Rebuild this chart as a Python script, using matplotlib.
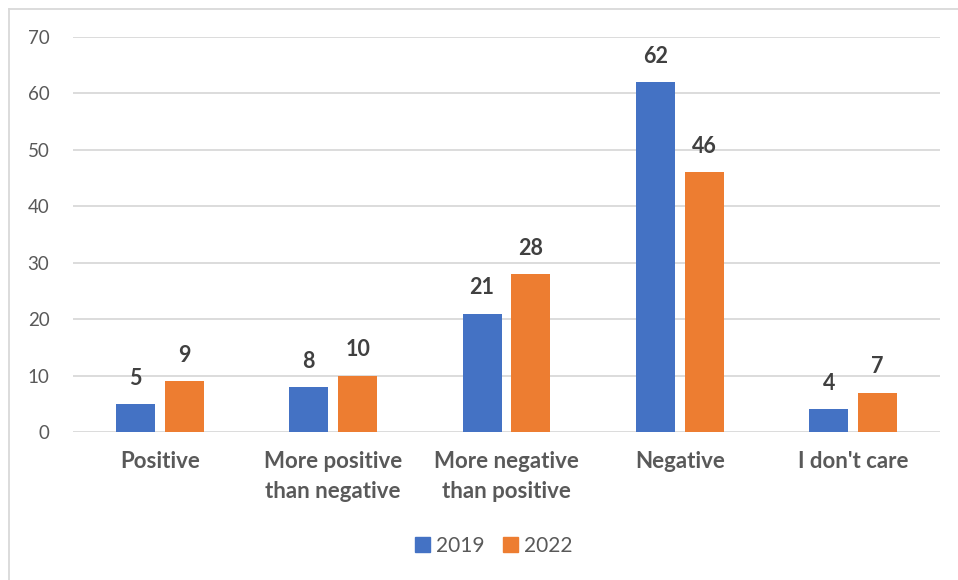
import numpy as np
import matplotlib.pyplot as plt
from matplotlib.lines import Line2D
from matplotlib.patches import Patch

categories = ["Positive", "More positive\nthan negative", "More negative\nthan positive",
              "Negative", "I don't care"]
years = ["2019", "2022"]
values_2019 = [5, 8, 21, 62, 4]
values_2022 = [9, 10, 28, 46, 7]
yticks = [0, 10, 20, 30, 40, 50, 60, 70]

blue = "#4472C4"
orange = "#ED7D31"
text_col = "#595959"
grid_col = "#D9D9D9"

plt.rcParams['font.family'] = ['Lato', 'DejaVu Sans']

fig = plt.figure(figsize=(9.58, 5.8), dpi=100)
ax = fig.add_axes([73/958, 1 - 432/580, 867/958, 395/580])

x = np.arange(len(categories))
w = 0.225
off = 0.141
b1 = ax.bar(x - off, values_2019, w, color=blue)
b2 = ax.bar(x + off, values_2022, w, color=orange)

for bars, vals in ((b1, values_2019), (b2, values_2022)):
    for r, v in zip(bars, vals):
        ax.annotate(str(v), (r.get_x() + r.get_width() / 2, v), xytext=(0, 11),
                    textcoords="offset points", ha="center", va="bottom",
                    fontsize=15.5, fontweight="bold", color="#404040")

ax.set_xlim(-0.5, len(categories) - 0.5)
ax.set_ylim(0, 70)
ax.set_yticks(yticks)
ax.set_xticks(x)
ax.set_xticklabels(categories, fontsize=16, fontweight="bold", color=text_col,
                   linespacing=1.5, va="top")
ax.tick_params(axis="x", length=0, pad=14)
ax.tick_params(axis="y", length=0, pad=17, labelsize=13.5, labelcolor=text_col)
ax.grid(axis="y", color=grid_col, linewidth=1.3)
ax.set_axisbelow(True)
for s in ax.spines.values():
    s.set_visible(False)

handles = [Patch(color=blue, label=years[0]), Patch(color=orange, label=years[1])]
fig.legend(handles=handles, loc="center", bbox_to_anchor=(494/958, 1 - 546/580),
           ncol=2, frameon=False, fontsize=15, handlelength=0.7, handleheight=0.7,
           columnspacing=0.9, handletextpad=0.3, labelcolor=text_col)

# chart area border (left and top edges)
fig.add_artist(Line2D([9/958, 9/958], [0, 1 - 9/580], color=grid_col, lw=1.3))
fig.add_artist(Line2D([9/958, 1], [1 - 9/580, 1 - 9/580], color=grid_col, lw=1.3))

fig.savefig("out.png", dpi=100)
